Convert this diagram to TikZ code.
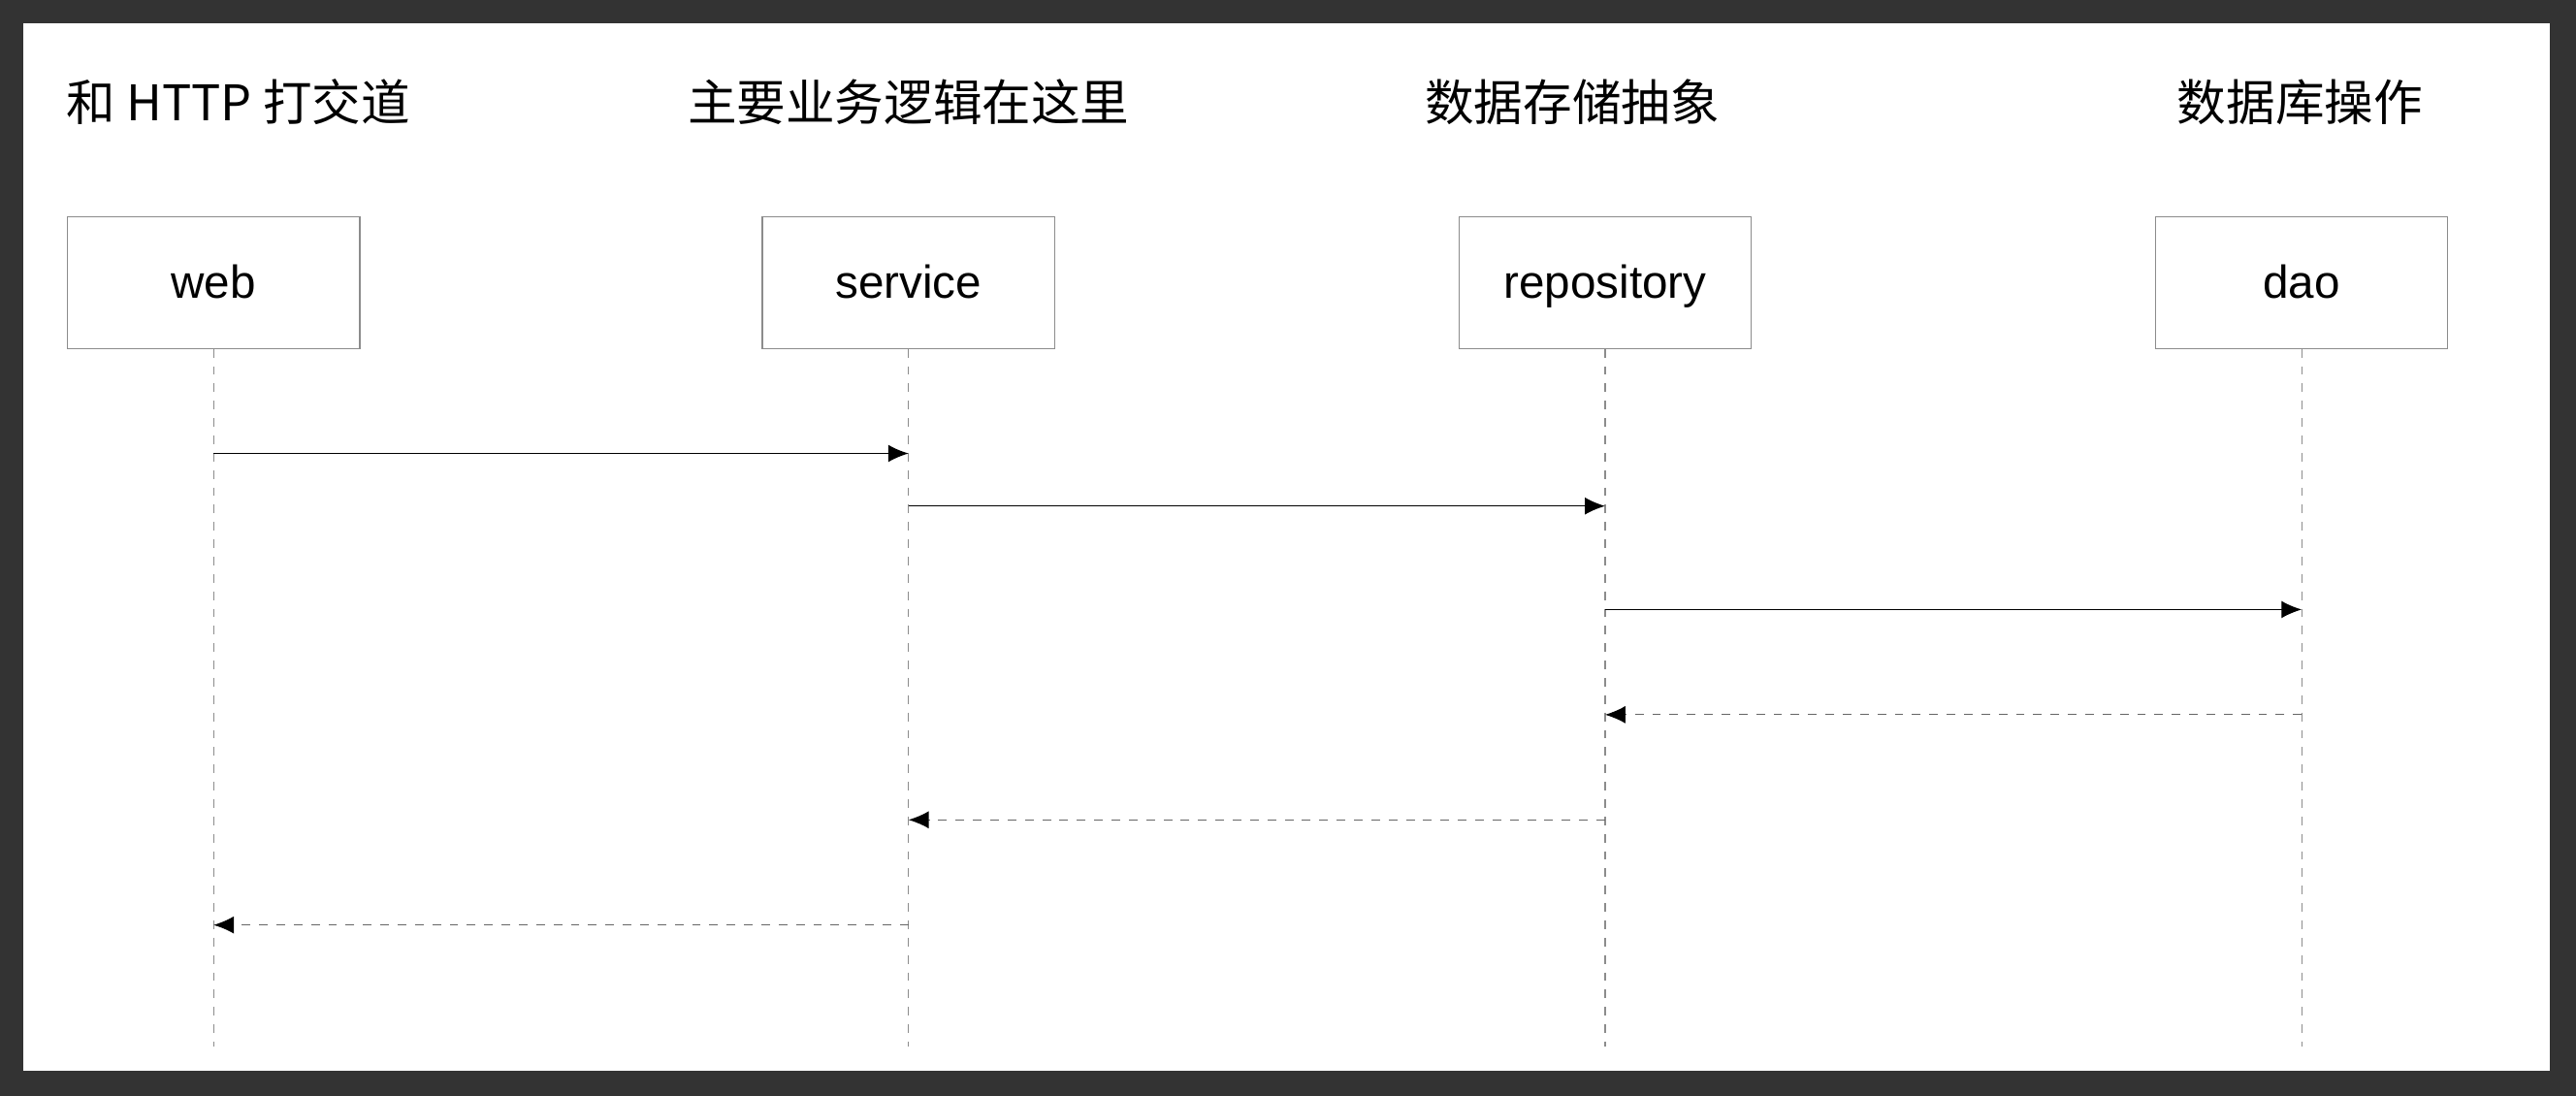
\documentclass[tikz,border=0pt]{standalone}
\usepackage{fontspec}
\setmainfont{Noto Sans CJK SC}
\newfontfamily\latinfont{Liberation Sans}
\usetikzlibrary{arrows.meta}

\begin{document}
\begin{tikzpicture}[x=0.02cm, y=-0.02cm]
\tikzstyle{partbox}=[rectangle, draw=black!45, fill=white, minimum width=3.56cm, minimum height=1.6cm, text height=11pt, text depth=0pt, font=\latinfont\fontsize{16}{19}\selectfont]
\tikzstyle{headtext}=[font=\fontsize{17}{20}\selectfont]
\tikzstyle{lifeline}=[draw=black!45, dashed, thin]
\tikzstyle{callstyle}=[thin, -{Latex[length=7pt,width=6pt]}]
\tikzstyle{replystyle}=[thin, draw=black!60, dashed, -{Latex[length=7pt,width=6pt,color=black]}]

\fill[black!80] (0,0) rectangle (1568,667);
\fill[white] (14,14) rectangle (1552,652);

\node[headtext] (Hweb) at (145,62) {和 HTTP 打交道};
\node[headtext] (Hservice) at (553,62) {主要业务逻辑在这里};
\node[headtext] (Hrepo) at (957,62) {数据存储抽象};
\node[headtext] (Hdao) at (1400,62) {数据库操作};

\node[partbox] (web) at (130,172) {web};
\node[partbox] (service) at (553,172) {service};
\node[partbox] (repo) at (977,172) {repository};
\node[partbox] (dao) at (1401,172) {dao};

\coordinate (Eweb) at (130,637);
\coordinate (Eservice) at (553,637);
\coordinate (Erepo) at (977,637);
\coordinate (Edao) at (1401,637);
\draw[lifeline] (web) -- (Eweb);
\draw[lifeline] (service) -- (Eservice);
\draw[lifeline] (repo) -- (Erepo);
\draw[lifeline] (dao) -- (Edao);

\draw[callstyle] (130,276) -- (553,276);
\draw[callstyle] (553,308) -- (977,308);
\draw[callstyle] (977,371) -- (1401,371);
\draw[replystyle] (1401,435) -- (977,435);
\draw[replystyle] (977,499) -- (553,499);
\draw[replystyle] (553,563) -- (130,563);
\end{tikzpicture}
\end{document}
